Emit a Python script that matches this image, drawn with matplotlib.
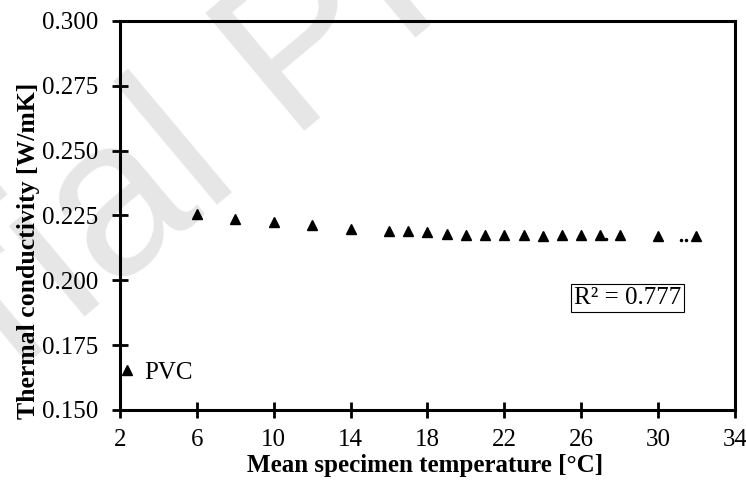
import matplotlib.pyplot as plt

# PVC thermal conductivity vs mean specimen temperature
temp_c = [6, 8, 10, 12, 14, 16, 17, 18, 19, 20, 21, 22, 23, 24, 25, 26, 27, 28, 30, 32]
conductivity = [0.2255, 0.2237, 0.2224, 0.2212, 0.2198, 0.2190, 0.2188, 0.2185, 0.2179, 0.2173,
                0.2173, 0.2175, 0.2173, 0.2172, 0.2174, 0.2175, 0.2175, 0.2174, 0.2170, 0.2170]

# leftover dots of the fitted trend line
trend_x = [27.3, 31.2, 31.45]
trend_y = [0.2158, 0.2157, 0.2157]

r_squared = 0.777
x_ticks = [2, 6, 10, 14, 18, 22, 26, 30, 34]
y_ticks = [0.150, 0.175, 0.200, 0.225, 0.250, 0.275, 0.300]

plt.rcParams['font.family'] = ['Liberation Serif', 'DejaVu Serif']

fig = plt.figure(figsize=(7.46, 4.84), dpi=100)
ax = fig.add_axes([0.161, 0.153, 0.824, 0.804])
ax.set_zorder(1)
ax.patch.set_alpha(0)

# faint background stamp
fig.text(-0.486, -0.426, "Material Preview", rotation=40, rotation_mode='anchor',
         fontsize=160, color='#e6e6e6', family='Liberation Sans',
         ha='left', va='baseline', zorder=-1)

ax.plot(temp_c, conductivity, linestyle='none', marker='^', markersize=7.2,
        color='black', label='PVC')
ax.plot(trend_x, trend_y, linestyle='none', marker='o', markersize=1.5, color='black')

ax.set_xlim(2, 34)
ax.set_ylim(0.150, 0.300)
ax.set_xticks(x_ticks)
ax.set_yticks(y_ticks)
ax.set_yticklabels([f"{v:.3f}" for v in y_ticks])

ax.set_xlabel("Mean specimen temperature [°C]", fontsize=18, fontweight='bold')
ax.set_ylabel("Thermal conductivity [W/mK]", fontsize=18.5, fontweight='bold')
ax.xaxis.set_label_coords(0.496, -0.112)
ax.yaxis.set_label_coords(-0.130, 0.41)

ax.tick_params(direction='inout', length=11, width=2, labelsize=18)
ax.tick_params(axis='y', pad=10)
ax.tick_params(axis='x', pad=8)
for s in ax.spines.values():
    s.set_linewidth(2.2)

ax.legend(loc='center left', bbox_to_anchor=(-0.005, 0.095), frameon=False, fontsize=18,
          handletextpad=0.3, handlelength=0.8, borderaxespad=0, borderpad=0)

ax.text(0.826, 0.288, f"R² = {r_squared}", transform=ax.transAxes, fontsize=18,
        ha='center', va='center',
        bbox=dict(boxstyle='square,pad=0.12', facecolor='white', edgecolor='black', linewidth=0.8))

fig.savefig("out.png", dpi=100)
